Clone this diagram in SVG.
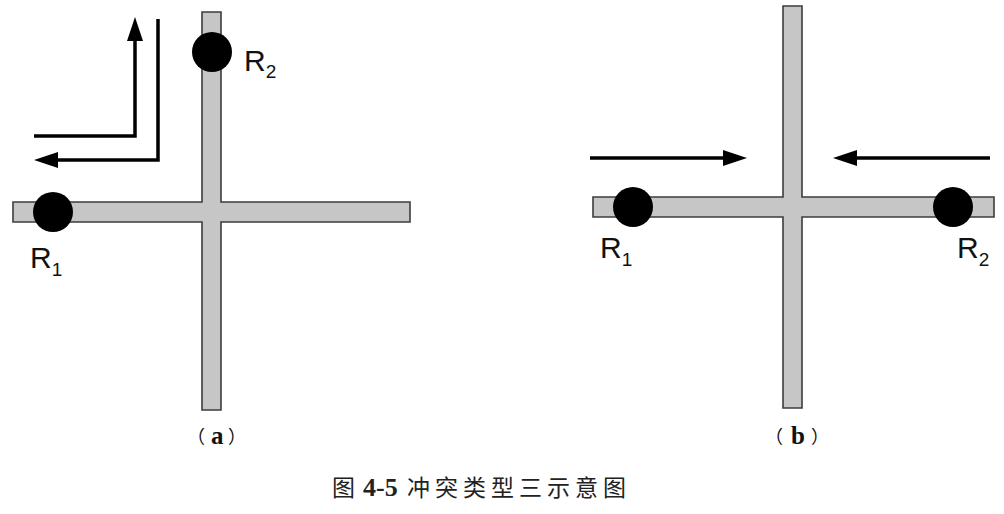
<svg xmlns="http://www.w3.org/2000/svg" width="1004" height="514" viewBox="0 0 1004 514">
  <defs>
    <marker id="ah" viewBox="0 0 24 16" markerWidth="24" markerHeight="16" refX="14" refY="8" orient="auto" markerUnits="userSpaceOnUse">
      <path d="M0,0 L24,8 L0,16 Z" fill="#000"/>
    </marker>
    <style>
      .road { fill: #c6c6c6; stroke: #3c3c3c; stroke-width: 1.6; }
      .robot { fill: #000; }
      .arrow { fill: none; stroke: #000; stroke-width: 3.5; stroke-linejoin: miter; marker-end: url(#ah); }
      .lbl { font-family: "Liberation Sans", Arial, sans-serif; font-size: 30px; fill: #111; }
      .sub { font-size: 19px; }
      .paren { font-family: "Noto Sans CJK SC", sans-serif; font-size: 18px; fill: #111; }
      .letter { font-family: "Liberation Serif", "Times New Roman", serif; font-weight: bold; font-size: 25px; fill: #111; }
      .cap { font-family: "Noto Sans CJK SC", sans-serif; font-size: 23px; fill: #222; }
      .capnum { font-family: "Liberation Serif", serif; font-weight: bold; font-size: 26px; fill: #222; }
    </style>
  </defs>
  <rect width="1004" height="514" fill="#fff"/>

  <!-- (a) -->
  <g id="road-a">
    <path class="road" d="M202,12 H221 V202 H410 V222 H221 V410 H202 V222 H13 V202 H202 Z"/>
  </g>
  <g id="robot-a-R2">
    <circle class="robot" cx="212" cy="52" r="20"/>
    <text class="lbl" x="244" y="71">R<tspan class="sub" dy="7">2</tspan></text>
  </g>
  <g id="robot-a-R1">
    <circle class="robot" cx="53" cy="212" r="20"/>
    <text class="lbl" x="30" y="268">R<tspan class="sub" dy="8">1</tspan></text>
  </g>

  <!-- (b) -->
  <g id="road-b">
    <path class="road" d="M783,6 H802 V197 H994 V217 H802 V408 H783 V217 H593 V197 H783 Z"/>
  </g>
  <g id="robot-b-R1">
    <circle class="robot" cx="633" cy="207" r="20"/>
    <text class="lbl" x="600" y="258">R<tspan class="sub" dy="8">1</tspan></text>
  </g>
  <g id="robot-b-R2">
    <circle class="robot" cx="953" cy="207" r="20"/>
    <text class="lbl" x="957" y="258">R<tspan class="sub" dy="8">2</tspan></text>
  </g>

  <g id="connectors">
    <path class="arrow" d="M34,136 H135 V27"/>
    <path class="arrow" d="M158,19 V160 H44"/>
    <path class="arrow" d="M590,158 H737"/>
    <path class="arrow" d="M990,158 H843"/>
  </g>

  <g id="label-a">
    <text class="paren" x="187" y="443">（</text>
    <text class="letter" x="211" y="444">a</text>
    <text class="paren" x="228" y="443">）</text>
  </g>
  <g id="label-b">
    <text class="paren" x="765" y="443">（</text>
    <text class="letter" x="791" y="444">b</text>
    <text class="paren" x="811" y="443">）</text>
  </g>

  <g id="caption">
    <text class="cap" x="332" y="496">图</text>
    <text class="capnum" x="363" y="496">4-5</text>
    <text class="cap" x="407" y="496" letter-spacing="5">冲突类型三示意图</text>
  </g>
</svg>
